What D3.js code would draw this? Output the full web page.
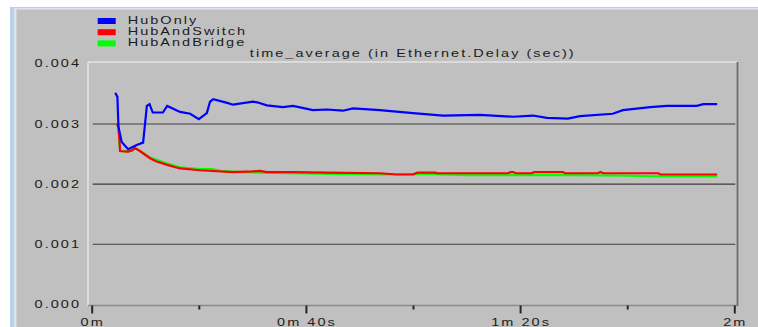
<!DOCTYPE html>
<html>
<head>
<meta charset="utf-8">
<script src="https://cdn.jsdelivr.net/npm/d3@7"></script>
<style>
  html, body { margin: 0; padding: 0; background: #ffffff; }
  svg { display: block; }
  text { font-family: "Liberation Sans", Arial, sans-serif; font-size: 10px; fill: #1c1c1c; letter-spacing: 1.4px; }
</style>
</head>
<body>
<svg id="chart" width="758" height="327"></svg>
<script>
// Series: [time in seconds, time_average of Ethernet delay in seconds]
const hubOnly = [
  [4.4, 0.00352], [4.8, 0.00345], [5.0, 0.00295], [5.6, 0.00270], [6.8, 0.00258],
  [8.4, 0.00265], [9.6, 0.00269], [9.9, 0.00295], [10.3, 0.00330], [10.8, 0.00333],
  [11.4, 0.00319], [13.3, 0.00319], [14.1, 0.00330], [16.5, 0.00320], [18.4, 0.00317],
  [20.0, 0.00308], [21.5, 0.00318], [22.1, 0.00337], [22.7, 0.00341], [25.3, 0.00335],
  [26.4, 0.00332], [30.1, 0.00337], [30.9, 0.00336], [32.7, 0.00331], [35.7, 0.00328],
  [37.6, 0.00330], [41.3, 0.00323], [43.9, 0.00324], [46.9, 0.00322], [48.8, 0.00326],
  [53.8, 0.00323], [60.0, 0.00318], [65.6, 0.00314], [72.5, 0.00315], [78.7, 0.00312],
  [82.4, 0.00314], [85.0, 0.00310], [88.9, 0.00309], [91.2, 0.00313], [97.3, 0.00317],
  [99.2, 0.00323], [104.3, 0.00328], [107.4, 0.00330], [113.0, 0.00330], [114.2, 0.00333],
  [116.8, 0.00333]
];
const hubAndSwitch = [
  [4.7, 0.00300], [5.0, 0.00295], [5.3, 0.00255], [6.8, 0.00254], [7.5, 0.00256],
  [8.1, 0.00260], [9.0, 0.00255], [10.9, 0.00243], [12.0, 0.00238], [14.1, 0.00232],
  [16.5, 0.00226], [20.2, 0.00223], [26.4, 0.00220], [30.0, 0.00221], [31.4, 0.00222],
  [32.7, 0.00220], [37.6, 0.00220], [44.0, 0.00219], [53.8, 0.00218], [57.0, 0.00216],
  [60.0, 0.00216], [60.8, 0.00219], [64.1, 0.00219], [64.5, 0.00218], [77.8, 0.00218],
  [78.2, 0.00220], [78.7, 0.00220], [79.2, 0.00218], [82.2, 0.00218], [82.6, 0.00220],
  [88.0, 0.00220], [88.4, 0.00218], [94.5, 0.00218], [95.0, 0.00220], [95.5, 0.00218],
  [105.8, 0.00218], [106.2, 0.00216], [116.8, 0.00216]
];
const hubAndBridge = [
  [4.7, 0.00300], [5.0, 0.00295], [5.3, 0.00255], [6.8, 0.00254], [7.5, 0.00256],
  [8.1, 0.00260], [9.0, 0.00255], [10.9, 0.00244], [12.5, 0.00239], [14.1, 0.00234],
  [16.5, 0.00228], [20.2, 0.00225], [22.5, 0.00225], [24.0, 0.00222], [28.0, 0.00220],
  [32.0, 0.00219], [37.0, 0.00218], [45.0, 0.00217], [55.0, 0.00216], [62.0, 0.00217],
  [70.0, 0.00215], [78.0, 0.00215], [90.0, 0.00215], [100.0, 0.00214], [105.0, 0.00213],
  [116.8, 0.00213]
];

const seriesNames = ["HubOnly", "HubAndSwitch", "HubAndBridge"];
const seriesColors = ["#0000ff", "#ff0000", "#00ff00"];

const yTicks = [0, 0.001, 0.002, 0.003, 0.004];
const xMajorTicks = [0, 40, 80, 120];
const xMajorLabels = ["0m", "0m 40s", "1m 20s", "2m"];
const xMinorTicks = [20, 60, 100];
const chartTitle = "time_average (in Ethernet.Delay (sec))";

// Horizontal stretch applied to all text glyphs
const TX = 1.45;

const svg = d3.select("#chart");

// Window frame
svg.append("rect").attr("x", 10).attr("y", 7).attr("width", 748).attr("height", 320).attr("fill", "#b9d1ea");
svg.append("rect").attr("x", 14).attr("y", 8).attr("width", 744).attr("height", 319).attr("fill", "#dbe6f2");
svg.append("rect").attr("x", 16).attr("y", 9).attr("width", 742).attr("height", 318).attr("fill", "#d2d2d2");
svg.append("rect").attr("x", 17).attr("y", 10).attr("width", 741).attr("height", 317).attr("fill", "#c0c0c0");

const plot = { left: 88, top: 62, right: 737.5, bottom: 305.5 };

const x = d3.scaleLinear().domain([0, 120]).range([91.7, 734.3]);
const y = d3.scaleLinear().domain([0, 0.004]).range([304.4, 63.8]);

function stretchedText(g, tx, ty, str, anchor) {
  return g.append("text")
    .attr("transform", `translate(${tx},${ty}) scale(${TX},1)`)
    .attr("text-anchor", anchor || "start")
    .text(str);
}

// Plot frame (3D inset look)
svg.append("line").attr("x1", plot.left).attr("x2", plot.right).attr("y1", plot.top).attr("y2", plot.top)
  .attr("stroke", "#e4e4e4").attr("stroke-width", 1.5);
svg.append("line").attr("x1", plot.left).attr("x2", plot.left).attr("y1", plot.top).attr("y2", plot.bottom)
  .attr("stroke", "#e4e4e4").attr("stroke-width", 1.5);
svg.append("line").attr("x1", plot.left).attr("x2", plot.right).attr("y1", plot.bottom).attr("y2", plot.bottom)
  .attr("stroke", "#8a8a8a").attr("stroke-width", 1.5);
svg.append("line").attr("x1", plot.right).attr("x2", plot.right).attr("y1", plot.top).attr("y2", plot.bottom + 0.5)
  .attr("stroke", "#6e6e6e").attr("stroke-width", 1.8);

// Horizontal gridlines
svg.append("g").selectAll("line")
  .data(yTicks.filter(v => v > 0 && v < 0.004))
  .join("line")
  .attr("x1", x(0) + 1).attr("x2", x(120) + 1)
  .attr("y1", d => y(d)).attr("y2", d => y(d))
  .attr("stroke", "#3c3c3c").attr("stroke-width", 1.1);

// Y tick labels
const yLab = svg.append("g");
yTicks.forEach(v => stretchedText(yLab, 81, y(v) + 3.6, d3.format(".3f")(v), "end"));

// X axis ticks
const xMajor = svg.append("g").attr("transform", `translate(0,${plot.bottom})`)
  .call(d3.axisBottom(x).tickValues(xMajorTicks).tickSize(8).tickFormat(""));
const xMinor = svg.append("g").attr("transform", `translate(0,${plot.bottom})`)
  .call(d3.axisBottom(x).tickValues(xMinorTicks).tickSize(4).tickFormat(""));
[xMajor, xMinor].forEach(g => {
  g.select(".domain").remove();
  g.selectAll(".tick line").attr("stroke", "#262626").attr("stroke-width", 2);
});
const xLab = svg.append("g");
xMajorTicks.forEach((t, i) => stretchedText(xLab, x(t) + 1, 326, xMajorLabels[i], "middle"));

// Title
stretchedText(svg, (plot.left + plot.right) / 2, 57, chartTitle, "middle");

// Series lines
const line = d3.line().x(d => x(d[0])).y(d => y(d[1]));
const seriesData = [hubOnly, hubAndSwitch, hubAndBridge];
// draw order: bridge, switch, hub on top
[2, 1, 0].forEach(i => {
  svg.append("path")
    .datum(seriesData[i])
    .attr("d", line)
    .attr("fill", "none")
    .attr("stroke", seriesColors[i])
    .attr("stroke-width", 2.2)
    .attr("stroke-linejoin", "miter");
});

// Legend
const legend = svg.append("g");
seriesNames.forEach((name, i) => {
  const by = 24 + i * 11.2;
  legend.append("rect")
    .attr("x", 97.7).attr("y", by - 6).attr("width", 18).attr("height", 6)
    .attr("fill", seriesColors[i]);
  stretchedText(legend, 127.7, by, name, "start");
});
</script>
</body>
</html>
